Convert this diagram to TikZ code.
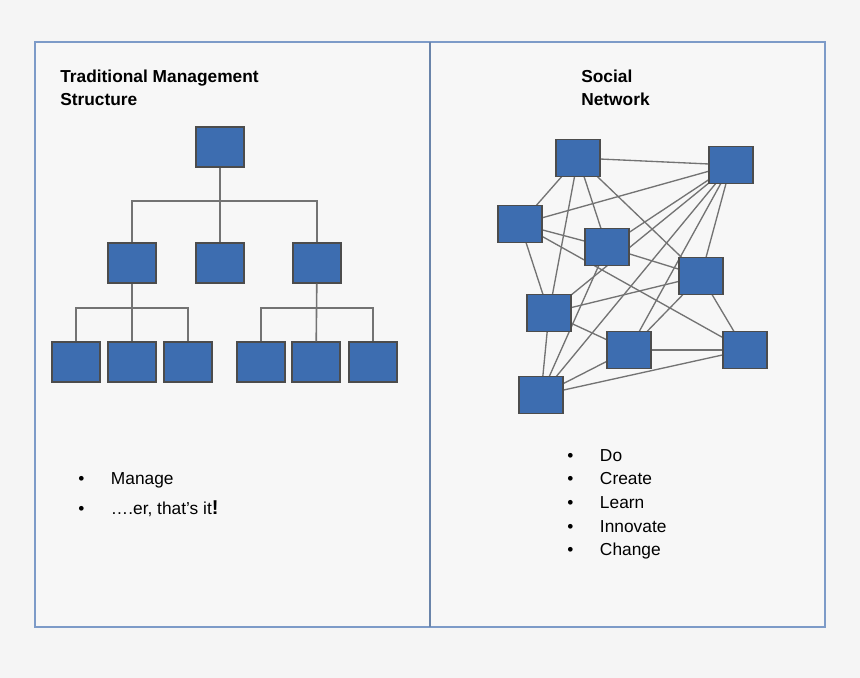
\documentclass[tikz,border=0pt]{standalone}
\usepackage{fontspec}
\setmainfont{Liberation Sans}
\begin{document}
\begin{tikzpicture}[x=0.75pt,y=-0.75pt,
  box/.style={draw=black!70,fill=boxblue,line width=0.8pt,minimum width=36pt,minimum height=30pt,inner sep=0pt},
  ln/.style={draw=black!55,line width=1.2pt},
  txt/.style={font=\fontsize{13}{15}\selectfont,anchor=west,inner sep=0pt},
  ttl/.style={font=\fontsize{13}{17}\selectfont\bfseries,anchor=north west,align=left,inner sep=0pt}]
\definecolor{boxblue}{RGB}{61,109,176}
\definecolor{frame}{RGB}{125,155,200}
\fill[white!96!black] (0,0) rectangle (860,678);
\useasboundingbox (0,0) rectangle (860,678);
\draw[frame,line width=1pt,fill=white!97!black] (35,42) rectangle (825,627);
\draw[frame!85!black,line width=2pt] (430,42) -- (430,627);
% titles
\node[ttl] (t1) at (60,70) {Traditional Management\\Structure};
\node[ttl] (t2) at (581,70) {Social\\Network};
% tree
\node[box] (r) at (220,147) {};
\node[box] (m1) at (132,263) {};
\node[box] (m2) at (220,263) {};
\node[box] (m3) at (317,263) {};
\foreach \n/\x in {b1/76,b2/132,b3/188,b4/261,b5/316,b6/373}
  \node[box] (\n) at (\x,362) {};
\coordinate (j0) at (220,201);
\draw[ln] (r) -- (j0);
\draw[ln] (m1.north) |- (j0) -| (m3.north);
\draw[ln] (j0) -- (m2);
\coordinate (j1) at (132,308);
\coordinate (j2) at (316,308);
\draw[ln] (m1) -- (b2);
\draw[ln] (b1.north) |- (j1) -| (b3.north);
\draw[ln] (m3) -- (b5);
\draw[ln] (b4.north) |- (j2) -| (b6.north);
% network
\foreach \n/\x/\y in {A/578/158,B/731/165,C/520/224,D/607/247,E/701/276,F/549/313,G/629/350,H/745/350,I/541/395}
  \coordinate (\n) at (\x,\y);
\foreach \a/\b in {A/B,A/C,A/D,A/F,A/E,B/C,B/D,B/F,B/G,B/I,B/E,C/D,C/H,C/F,D/E,D/I,E/F,E/G,E/H,F/G,F/I,G/H,G/I,I/H}
  \draw[ln,line width=1pt] (\a) -- (\b);
\foreach \n in {A,B,C,D,E,F,G,H,I}
  \node[box,minimum width=33pt,minimum height=28pt] (n\n) at (\n) {};
% bullets
\node[txt] (l1) at (78,480) {•\hspace{20pt}Manage};
\node[txt] (l2) at (78,509) {•\hspace{20pt}….er, that’s it\textbf{\fontsize{15}{15}\selectfont !}};
\foreach \t/\y in {Do/456,Create/479,Learn/503,Innovate/527,Change/551}
  \node[txt] at (567,\y) {•\hspace{20pt}\t};
\end{tikzpicture}
\end{document}
